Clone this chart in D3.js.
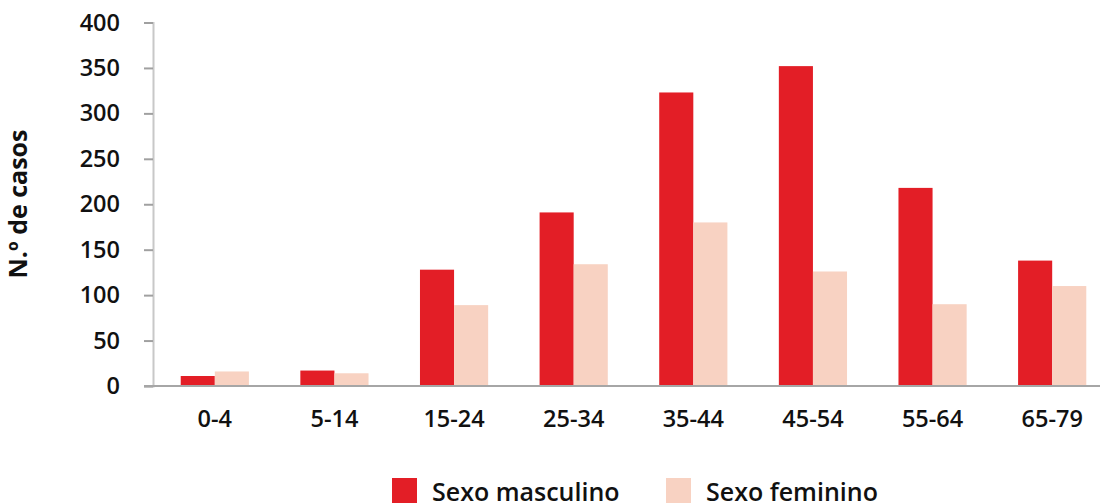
<!DOCTYPE html>
<html>
<head>
<meta charset="utf-8">
<script src="https://cdn.jsdelivr.net/npm/d3@7"></script>
<style>
	body { margin: 0; background: #fff; }
	svg { display: block; }
	svg text { font-family: "Open Sans", "Noto Sans", sans-serif; }
</style>
</head>
<body>
<svg id="chart"></svg>
<script>
const ageGroups = ["0-4", "5-14", "15-24", "25-34", "35-44", "45-54", "55-64", "65-79"];
const seriesNames = ["Sexo masculino", "Sexo feminino"];
const maleCases = [11, 17, 128, 191, 323, 352, 218, 138];
const femaleCases = [16, 14, 89, 134, 180, 126, 90, 110];
const yTicks = [0, 50, 100, 150, 200, 250, 300, 350, 400];
const seriesColors = ["#e31e26", "#f8d2c2"];

const width = 1100;
const height = 503;
const margin = { top: 22.5, right: -12, bottom: 117, left: 155 };
const fontFamily = '"Open Sans", "Noto Sans", sans-serif';

const svg = d3.select("#chart").attr("width", width).attr("height", height);

const rows = ageGroups.map((g, i) => ({ group: g, values: [maleCases[i], femaleCases[i]] }));

const x0 = d3
	.scaleBand()
	.domain(ageGroups)
	.range([margin.left, width - margin.right])
	.paddingInner(0.43)
	.paddingOuter(0.215);

const x1 = d3.scaleBand().domain([0, 1]).range([0, x0.bandwidth()]);

const y = d3
	.scaleLinear()
	.domain([0, 400])
	.range([height - margin.bottom, margin.top]);

// bars
svg
	.append("g")
	.selectAll("g")
	.data(rows)
	.join("g")
	.attr("transform", (d) => `translate(${x0(d.group)},0)`)
	.selectAll("rect")
	.data((d) => d.values.map((v, k) => ({ k, v })))
	.join("rect")
	.attr("x", (d) => x1(d.k))
	.attr("y", (d) => y(d.v))
	.attr("width", x1.bandwidth())
	.attr("height", (d) => y(0) - y(d.v))
	.attr("fill", (d) => seriesColors[d.k]);

// y axis
const yAxis = svg
	.append("g")
	.attr("transform", `translate(153,0)`)
	.call(d3.axisLeft(y).tickValues(yTicks).tickSize(9).tickPadding(24))
	.attr("font-family", fontFamily);
yAxis.select(".domain").attr("stroke", "#c8c8c8").attr("stroke-width", 2);
yAxis.selectAll(".tick line").attr("stroke", "#a0a0a0").attr("stroke-width", 2);
yAxis
	.selectAll(".tick text")
	.attr("font-size", "23.5px")
	.attr("font-weight", 600)
	.attr("fill", "#111");

// x axis
const xAxis = svg
	.append("g")
	.attr("transform", `translate(0,${y(0)})`)
	.call(d3.axisBottom(x0).tickSize(0).tickPadding(24))
	.attr("font-family", fontFamily);
xAxis.select(".domain").remove();
xAxis
	.append("line")
	.attr("x1", 144)
	.attr("x2", width)
	.attr("stroke", "#a6a6a6")
	.attr("stroke-width", 2);
xAxis
	.selectAll(".tick text")
	.attr("font-size", "23.5px")
	.attr("font-weight", 600)
	.attr("fill", "#111");

// y title
svg
	.append("text")
	.attr("transform", `translate(27,204) rotate(-90)`)
	.attr("text-anchor", "middle")
	.attr("font-size", "25px")
	.attr("font-weight", 700)
	.attr("fill", "#111")
	.text("N.º de casos");

// legend
const legendX = [392, 666];
const legend = svg
	.append("g")
	.selectAll("g")
	.data(seriesNames)
	.join("g")
	.attr("transform", (d, i) => `translate(${legendX[i]},478)`);
legend
	.append("rect")
	.attr("width", 25)
	.attr("height", 25)
	.attr("fill", (d, i) => seriesColors[i]);
legend
	.append("text")
	.attr("x", 40)
	.attr("y", 23)
	.attr("font-size", "25px")
	.attr("font-weight", 600)
	.attr("fill", "#111")
	.text((d) => d);
</script>
</body>
</html>
